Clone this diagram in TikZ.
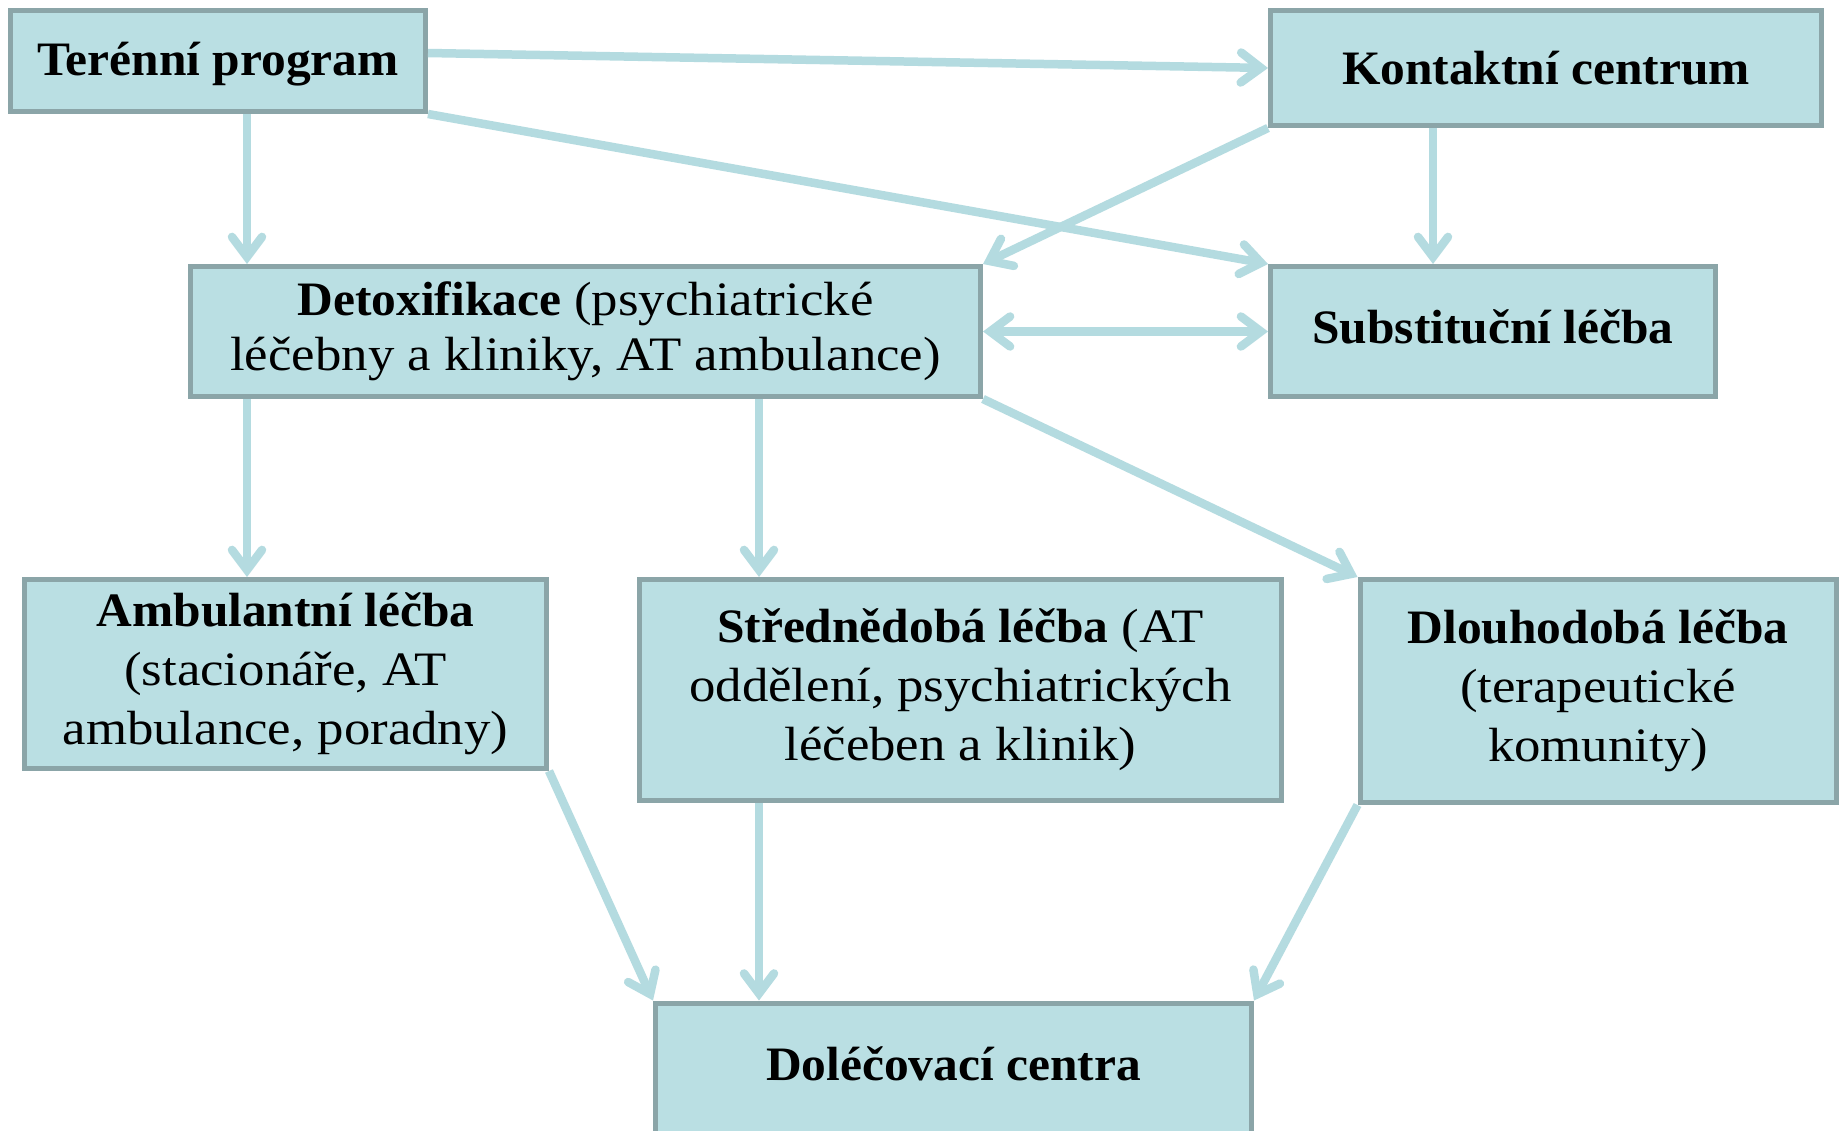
\documentclass[tikz,border=0pt]{standalone}
\usepackage{fontspec}
\setmainfont{Liberation Serif}[FakeStretch=1.1, BoldFeatures={FakeStretch=1.03}]
\usetikzlibrary{arrows.meta,calc}
\definecolor{boxfill}{RGB}{186,223,227}
\definecolor{boxline}{RGB}{139,165,168}
\definecolor{arrowc}{RGB}{180,219,224}
\begin{document}
\begin{tikzpicture}[x=1pt,y=-1pt,
  box/.style={draw=boxline, fill=boxfill, line width=5pt, inner sep=0pt, align=center,
    font=\fontsize{48}{59}\selectfont},
  arr/.style={draw=arrowc, line width=8.5pt, -{Straight Barb[length=20pt,width=30pt,line cap=round]}},
  dbl/.style={draw=arrowc, line width=8.5pt, {Straight Barb[length=20pt,width=30pt,line cap=round]}-{Straight Barb[length=20pt,width=30pt,line cap=round]}}]
\fill[white] (0,0) rectangle (1839,1130);
\useasboundingbox (0,0) rectangle (1839,1130);

\node[box, minimum width=415pt, minimum height=101pt, text height=40pt, text depth=12pt] (T) at (218,61) {\textbf{Terénní program}};
\node[box, minimum width=551pt, minimum height=115pt, text height=40pt, text depth=7.4pt] (K) at (1546,68) {\textbf{Kontaktní centrum}};
\node[box, minimum width=790pt, minimum height=130pt, font=\fontsize{48}{55}\selectfont] (D) at (585.5,331.5)
  {\textbf{Detoxifikace} (psychiatrické\\léčebny a kliniky, AT ambulance)};
\node[box, minimum width=445pt, minimum height=130pt, text height=40pt, text depth=16.4pt] (S) at (1493,331.5) {\textbf{Substituční léčba}};
\node[box, minimum width=522pt, minimum height=189pt] (A) at (285.5,674)
  {\textbf{Ambulantní léčba}\\(stacionáře, AT\\ambulance, poradny)};
\node[box, minimum width=642pt, minimum height=221pt] (M) at (960.5,690)
  {\textbf{Střednědobá léčba} (AT\\oddělení, psychiatrických\\léčeben a klinik)};
\node[box, minimum width=476pt, minimum height=223pt] (L) at (1598,691)
  {\textbf{Dlouhodobá léčba}\\(terapeutické\\komunity)};
\node[box, anchor=north, minimum width=596pt, inner ysep=34pt, text height=43pt, text depth=150pt] (C)
  at (953.5,1000.5) {\textbf{Doléčovací centra}};

\coordinate (x1) at (247,0);
\coordinate (x2) at (1433,0);
\coordinate (x3) at (759,0);

\draw[arr] ([yshift=8pt]T.east) -- (K.west);
\draw[arr] (T.south east) -- (S.north west);
\draw[arr] (T.south -| x1) -- (D.north -| x1);
\draw[arr] (K.south west) -- (D.north east);
\draw[arr] (K.south -| x2) -- (S.north -| x2);
\draw[dbl] (D.east) -- (S.west);
\draw[arr] (D.south -| x1) -- (A.north -| x1);
\draw[arr] (D.south -| x3) -- (M.north -| x3);
\draw[arr] (D.south east) -- (L.north west);
\draw[arr] (A.south east) -- (C.north west);
\draw[arr] (M.south -| x3) -- (C.north -| x3);
\draw[arr] (L.south west) -- (C.north east);
\end{tikzpicture}
\end{document}
